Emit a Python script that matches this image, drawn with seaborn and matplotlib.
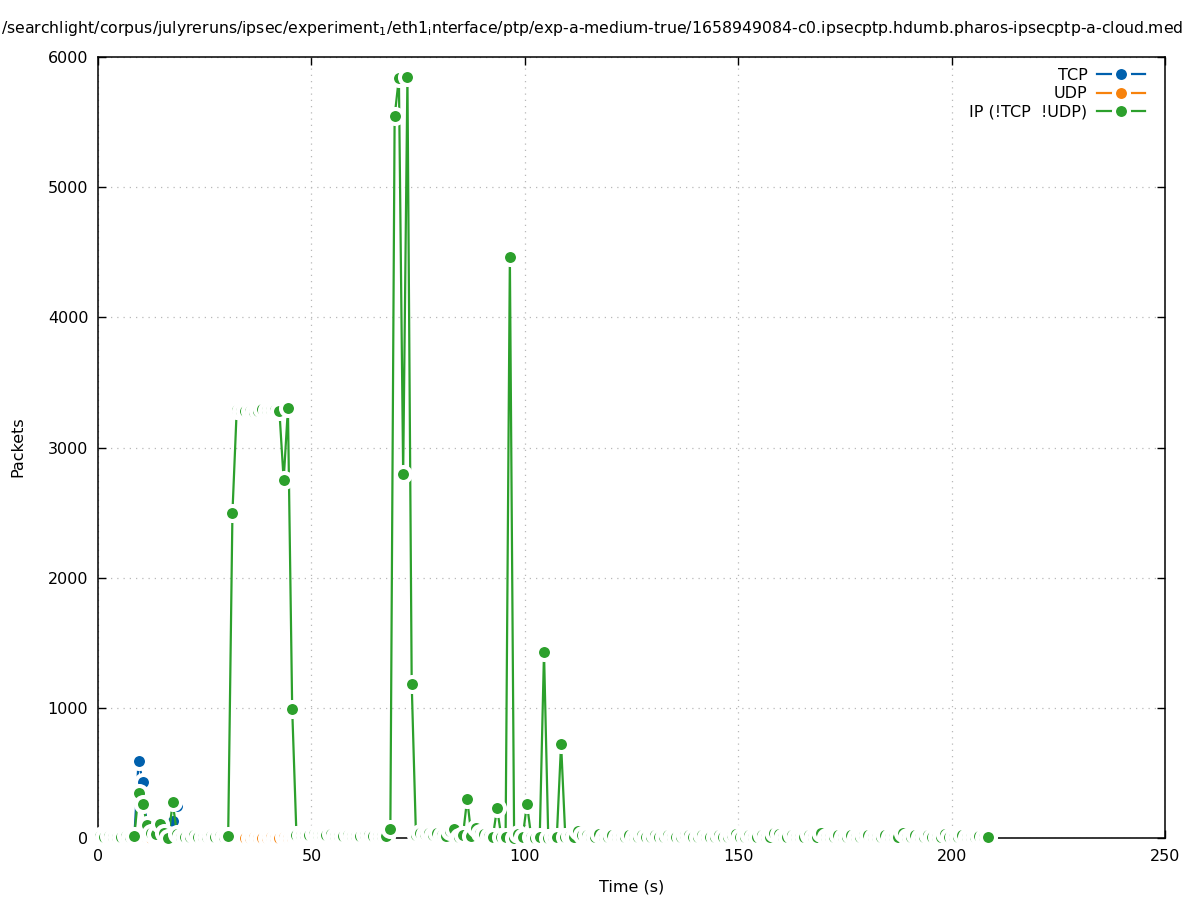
import numpy as np
import pandas as pd
import matplotlib
matplotlib.use("Agg")
import matplotlib.pyplot as plt
from matplotlib.lines import Line2D
import seaborn as sns

# packets per one-second sample (IP = not TCP, not UDP)
ip_start = [12, 8, 12, 8, 8, 8, 14, 6,
            15, 345, 265, 100, 40, 30, 110, 40, 0, 275, 30, 10,
            10, 10, 20, 10, 10, 10, 18, 10, 15, 10]
ip_plateau = [15, 2500, 3290, 3280, 3280, 3280, 3275, 3280, 3295, 3285,
              3285, 3290, 3280, 2750, 3300, 990, 20]
ip_quiet = [25, 20, 20, 30, 20, 20, 20, 30, 15, 15,
            15, 25, 15, 15, 15, 25, 20, 15, 15, 15]
ip_burst = [15, 70, 5545, 5840, 2800, 5845, 1185, 20, 35, 30,
            35, 25, 40, 20, 15, 55, 70, 10, 20, 300,
            15, 75, 40, 30, 15, 5, 230, 10, 5, 4460,
            0, 30, 5, 265, 10, 0, 5, 1430, 0, 5,
            10, 725, 5, 15, 10, 50, 20]
ip_tail = [25, 10, 10, 30, 10, 10, 25, 5, 5, 5,
           20, 5, 5, 25, 10, 10, 20, 5, 5, 20,
           5, 5, 5, 20, 20, 5, 5, 20, 5, 5,
           5, 20, 5, 5, 25, 30, 5, 5, 20, 5,
           5, 20, 5, 5, 35, 30, 5, 5, 20, 5,
           5, 5, 25, 5, 5, 35, 5, 5, 5, 20,
           5, 5, 20, 5, 5, 25, 20, 5, 5, 5,
           20, 5, 5, 5, 40, 5, 5, 20, 5, 5,
           20, 5, 5, 5, 30, 5, 5, 5, 20, 5,
           5, 5, 15, 5, 10]
ip_vals = ip_start + ip_plateau + ip_quiet + ip_burst + ip_tail

tcp_vals = [0, 0, 0, 0, 0, 0, 0, 0, 0, 590,
            430, 60, 40, 70, 50, 20, 60, 130, 245, 0]

udp_vals = [0, 0, 0, 0, 0, 0, 0, 0, 0, 0,
            0, 0, 0, 0, 0, 0, 0, 0, 0, 0,
            0, 0, 0, 0, 0, 0, 0, 0, 0, 0,
            0, 0, 10, 0, 0, 0, 10, 0, 0, 0,
            10, 0, 0, 10, 0, 0, 0]

# samples are taken every second, offset by half a second
ip_t = np.arange(len(ip_vals)) + 0.5
tcp_t = np.arange(len(tcp_vals)) + 0.5
udp_t = np.arange(len(udp_vals)) + 0.5

series = [
    ("TCP", tcp_t, tcp_vals, "#0060ad"),
    ("UDP", udp_t, udp_vals, "#f7820c"),
    ("IP (!TCP  !UDP)", ip_t, ip_vals, "#2ca02c"),
]

title = (r"/searchlight/corpus/julyreruns/ipsec/experiment$_{\mathrm{1}}$"
         r"/eth1$_{\mathrm{i}}$nterface/ptp/exp-a-medium-true/1658949084-c0."
         r"ipsecptp.hdumb.pharos-ipsecptp-a-cloud.med")

plt.rcParams["font.family"] = ["DejaVu Sans"]
plt.rcParams["font.size"] = 11.5

fig = plt.figure(figsize=(11.97, 9), dpi=100)
ax = fig.add_axes([98 / 1197, 1 - 838 / 900, (1165 - 98) / 1197, (838 - 57) / 900])

z = 3
handles = []
for name, t, v, col in series:
    df = pd.DataFrame({"t": t, "v": v})
    sns.lineplot(data=df, x="t", y="v", color=col, lw=1.6, ax=ax,
                 estimator=None, sort=False, legend=False, zorder=z)
    sns.scatterplot(data=df, x="t", y="v", color=col, s=117,
                    edgecolor="white", linewidth=2.9, ax=ax,
                    legend=False, zorder=z + 0.1, clip_on=False)
    z += 0.2
    handles.append(Line2D([], [], color=col, lw=1.6, marker="o", markersize=10.8,
                          markerfacecolor=col, markeredgecolor="white",
                          markeredgewidth=2.9, label=name))

ax.set_xlim(0, 250)
ax.set_ylim(0, 6000)
ax.set_xticks([0, 50, 100, 150, 200, 250])
ax.set_yticks([0, 1000, 2000, 3000, 4000, 5000, 6000])
ax.set_xlabel("")
ax.set_ylabel("")
ax.grid(True, linestyle=(0, (1, 4)), color="#b8b8b8", lw=0.9)
ax.set_axisbelow(True)
ax.tick_params(direction="in", top=True, right=True, length=6, width=1,
               colors="black", labelsize=11.5)
ax.tick_params(axis="x", pad=8)
ax.tick_params(axis="y", pad=7)
for sp in ax.spines.values():
    sp.set_linewidth(1.1)
    sp.set_color("black")

leg = ax.legend(handles=handles, loc="upper right", frameon=False,
                markerfirst=False, handlelength=3.0, handletextpad=0.6,
                labelspacing=0.2, borderpad=0, fontsize=11.5,
                bbox_to_anchor=(1153 / 1197, 1 - 60 / 900),
                bbox_transform=fig.transFigure)

# the reference title runs to the right edge; keep it just inside
fig.text(1 / 1197, 1 - 28 / 900, title, ha="left", va="center", fontsize=11.3)
fig.text((98 + 1165) / 2 / 1197, 1 - 887 / 900, "Time (s)", ha="center", va="center")
fig.text(18 / 1197, 1 - 447 / 900, "Packets", ha="center", va="center", rotation=90)

fig.savefig("out.png", dpi=100)
